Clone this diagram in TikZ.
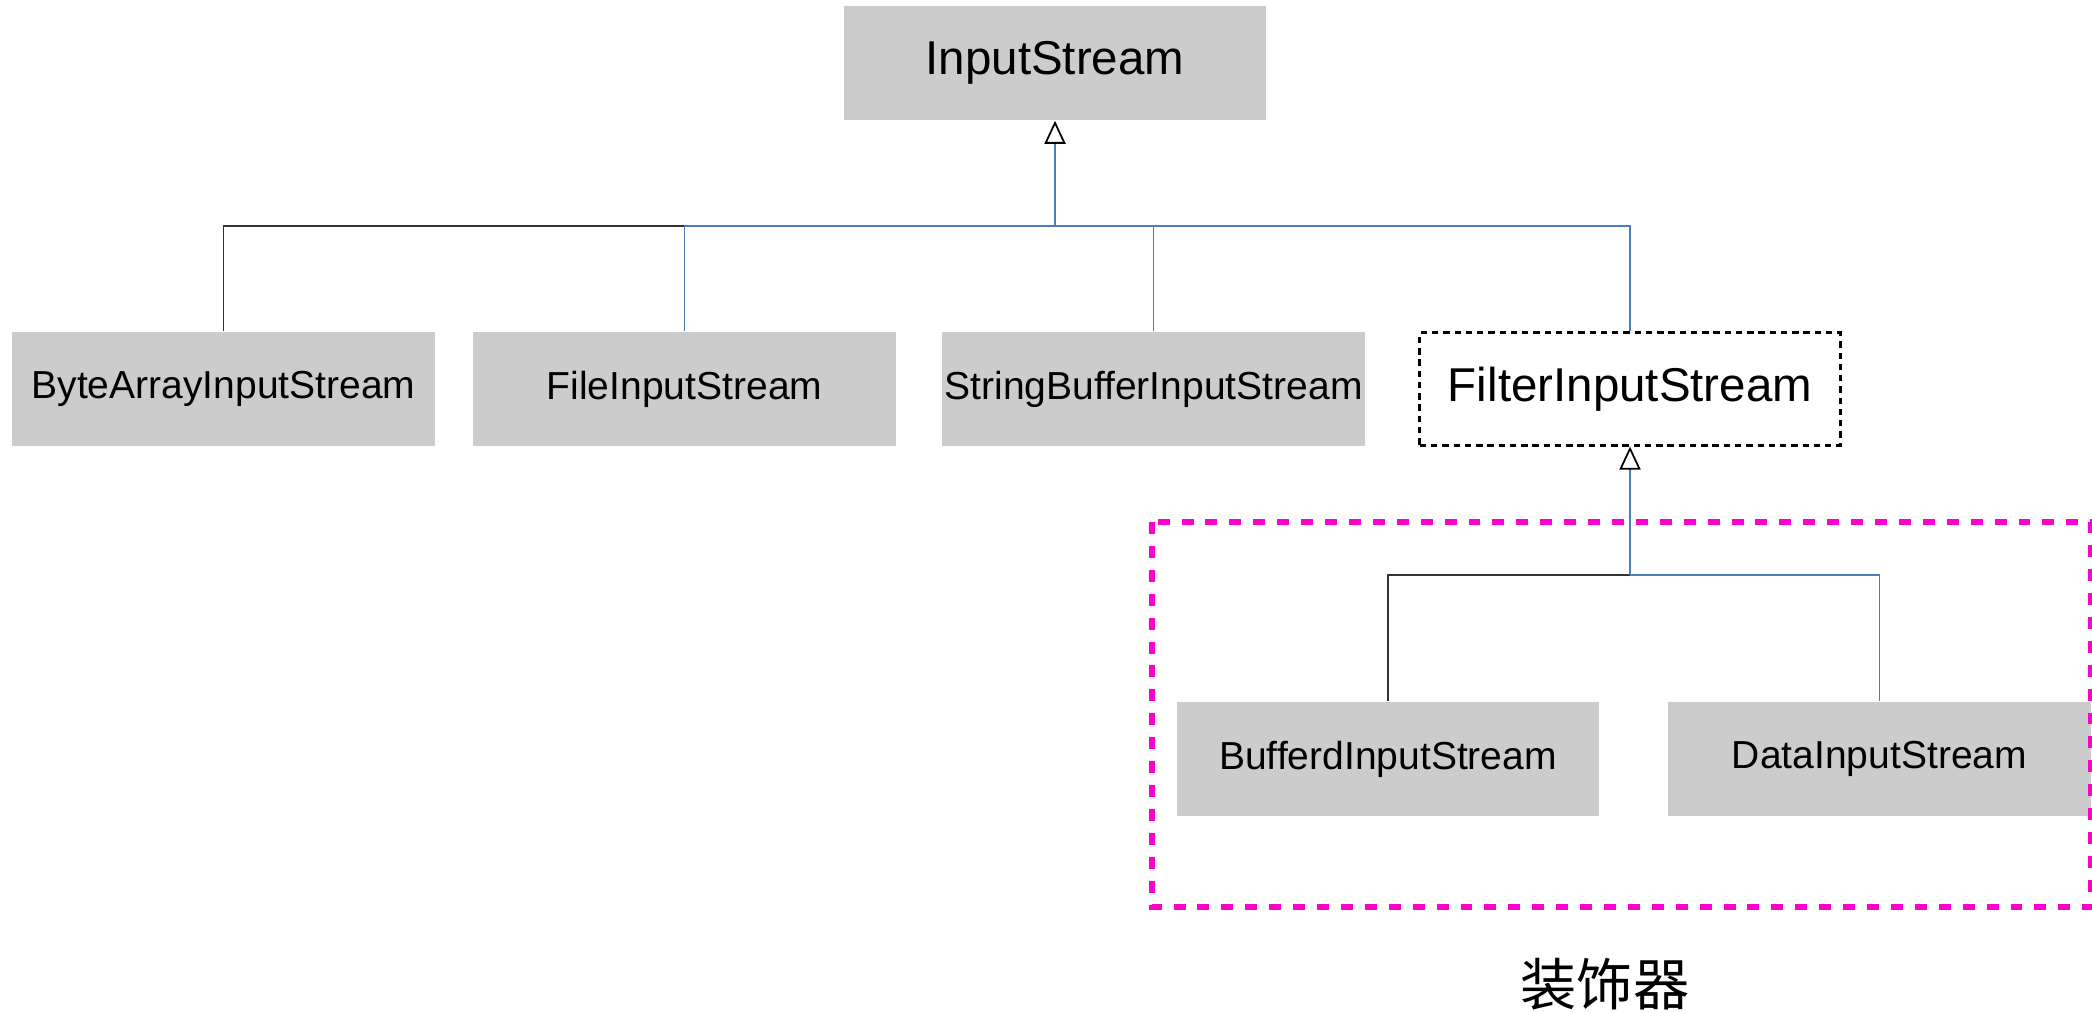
\documentclass[tikz,border=0pt]{standalone}
\usepackage{fontspec}
\setmainfont{Liberation Sans}
\newfontfamily\cjkfont{Noto Sans CJK SC}
\usepackage{tikz}
\usetikzlibrary{arrows.meta}

\definecolor{boxgray}{HTML}{CCCCCC}
\definecolor{linkblue}{HTML}{4A7EBB}
\definecolor{decopink}{HTML}{FF00CC}

\tikzset{
  cls/.style={fill=boxgray, minimum width=4.22cm, minimum height=1.14cm, inner sep=0pt,
    font=\fontsize{11.1}{13}\selectfont},
  bigcls/.style={cls, font=\fontsize{13.5}{16}\selectfont},
  link/.style={draw=linkblue, line width=0.4pt},
  darklink/.style={draw=black!80, line width=0.4pt},
  inherit/.style={link, -{Triangle[open, length=0.23cm, width=0.21cm, line width=0.5pt, color=black]}},
}

\begin{document}
\begin{tikzpicture}[x=0.01cm, y=-0.01cm]
            \useasboundingbox (0,0) rectangle (2092,1012);
            % Base class
            \node[bigcls] (input) at (1055,63) {InputStream};
            % Subclasses
            \node[cls] (bytearray) at (223.5,389) {ByteArrayInputStream};
            \node[cls] (file) at (684.5,389) {FileInputStream};
            \node[cls] (strbuf) at (1153.5,389) {StringBufferInputStream};
            \node[bigcls, fill=none, draw, line width=0.85pt, dash pattern=on 1.8pt off 1.4pt,
                  minimum width=4.2cm, minimum height=1.12cm] (filter) at (1630,389) {FilterInputStream};
            % Decorators
            \node[cls] (buffered) at (1388,759) {BufferdInputStream};
            \node[cls] (data) at (1879.5,759) {DataInputStream};
            % Inheritance lines
            \coordinate (bus) at (input.south |- 0,226);
            \coordinate (subbus) at (filter.south |- 0,575);
            \draw[darklink] (bytearray.north) |- (bus);
            \draw[link] (file.north) |- (bus);
            \draw[link] (strbuf.north) |- (bus);
            \draw[link] (filter.north) |- (bus);
            \draw[inherit] (bus) -- (input.south);
            \draw[darklink] (buffered.north) |- (subbus);
            \draw[link] (data.north) |- (subbus);
            \draw[inherit] (subbus) -- (filter.south);
            % Decorator group
            \draw[decopink, line width=1.6pt, dash pattern=on 3.4pt off 3.4pt] (1152,522) rectangle (2091,907);
            \node[font=\cjkfont\fontsize{16}{18}\selectfont] (decolabel) at (1605,984) {装饰器};
        \end{tikzpicture}
\end{document}
